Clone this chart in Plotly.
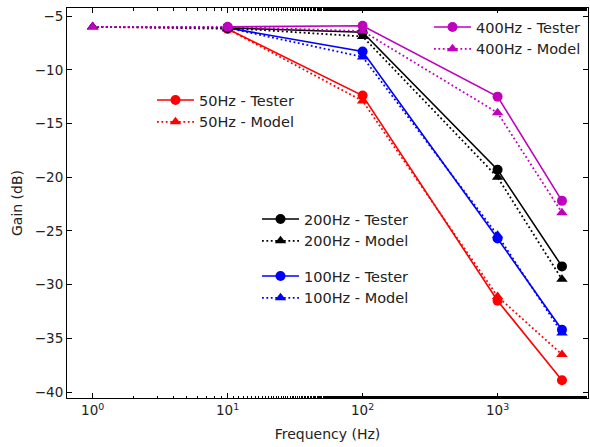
import plotly.graph_objects as go

freq_model = [1, 10, 100, 1000, 3000]
freq_tester = [10, 100, 1000, 3000]

tester_50 = [-6.2, -12.4, -31.5, -38.9]
model_50 = [-6.0, -6.2, -12.9, -31.1, -36.5]
tester_100 = [-6.1, -8.3, -25.7, -34.2]
model_100 = [-6.0, -6.1, -8.8, -25.4, -34.5]
tester_200 = [-6.1, -6.5, -19.3, -28.3]
model_200 = [-6.0, -6.1, -6.9, -20.0, -29.5]
tester_400 = [-6.0, -5.9, -12.5, -22.2]
model_400 = [-6.0, -6.0, -6.4, -14.0, -23.3]

x_tickvals = [1, 10, 100, 1000]
x_ticktext = ["10<sup>0</sup>", "10<sup>1</sup>", "10<sup>2</sup>", "10<sup>3</sup>"]
y_tickvals = [-5, -10, -15, -20, -25, -30, -35, -40]

FONT = "DejaVu Sans"
W, H = 590, 447
ML, MR, MT, MB = 67, 2, 8, 49
PW, PH = W - ML - MR, H - MT - MB

def px(x):
    return (x - ML) / PW

def py(y):
    return (H - MB - y) / PH

series = [
    ("50Hz", "#ff0000", tester_50, model_50, "legend"),
    ("100Hz", "#0000ff", tester_100, model_100, "legend4"),
    ("200Hz", "#000000", tester_200, model_200, "legend3"),
    ("400Hz", "#bf00bf", tester_400, model_400, "legend2"),
]

fig = go.Figure()
for name, col, t, m, lg in series:
    fig.add_trace(go.Scatter(
        x=freq_tester, y=t, mode="lines+markers", name=f"{name} - Tester",
        line=dict(color=col, width=1.6),
        marker=dict(symbol="circle", size=10, color=col),
        legend=lg, legendgroup=f"{name}t",
    ))
    fig.add_trace(go.Scatter(
        x=freq_model, y=m, mode="lines+markers", name=f"{name} - Model",
        line=dict(color=col, width=1.8, dash="1.8px,2.6px"),
        marker=dict(symbol="triangle-up", size=10, color=col),
        legend=lg, legendgroup=f"{name}m",
    ))

leg_common = dict(
    bgcolor="rgba(0,0,0,0)", borderwidth=0, font=dict(family=FONT, size=14.5, color="#222"),
    itemwidth=37, xanchor="left", yanchor="top", traceorder="normal", tracegroupgap=1.5,
)

fig.update_layout(
    width=W, height=H,
    margin=dict(l=ML, r=MR, t=MT, b=MB),
    paper_bgcolor="white", plot_bgcolor="white",
    font=dict(family=FONT, size=13.5, color="#222"),
    legend=dict(x=px(152), y=py(84), **leg_common),
    legend2=dict(x=px(429), y=py(11), **leg_common),
    legend3=dict(x=px(257), y=py(203), **leg_common),
    legend4=dict(x=px(257), y=py(260), **leg_common),
    xaxis=dict(
        type="log", range=[-0.19, 3.67],
        tickvals=x_tickvals, ticktext=x_ticktext,
        ticks="inside", ticklen=5, tickwidth=1, tickcolor="black",
        showline=True, linecolor="black", linewidth=1, mirror="ticks",
        showgrid=False, zeroline=False,
        minor=dict(ticks="inside", ticklen=2.5, tickwidth=0.8, tickcolor="black", showgrid=False),
        title=dict(text="Frequency (Hz)", font=dict(family=FONT, size=14, color="#222"), standoff=11),
        tickfont=dict(family=FONT, size=13.5, color="#222"),
    ),
    yaxis=dict(
        range=[-40.55, -4.25],
        tickvals=y_tickvals,
        ticks="inside", ticklen=5, tickwidth=1, tickcolor="black",
        showline=True, linecolor="black", linewidth=1, mirror="ticks",
        showgrid=False, zeroline=False,
        title=dict(text="Gain (dB)", font=dict(family=FONT, size=14, color="#222"), standoff=8),
        tickfont=dict(family=FONT, size=13.5, color="#222"),
    ),
)

fig.write_html("out.html")
